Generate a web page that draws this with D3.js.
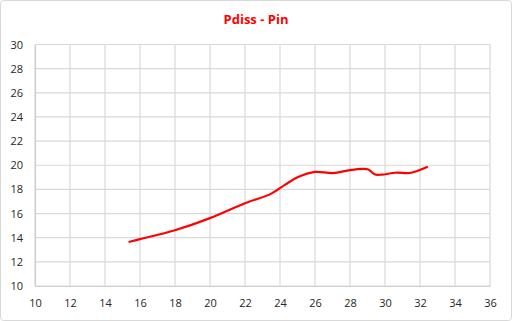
<!DOCTYPE html>
<html>
<head>
<meta charset="utf-8">
<script src="https://cdn.jsdelivr.net/npm/d3@7"></script>
<style>
  body { margin: 0; background: #fff; }
  svg { display: block; font-family: "Open Sans", "Noto Sans", sans-serif; }
</style>
</head>
<body>
<div id="chart"></div>
<script>
// Pdiss vs Pin
var pin   = [15.4, 16, 18, 20, 22, 23.5, 24.3, 25, 26, 27, 28, 28.7, 29.05, 29.4, 29.8, 30.6, 31.5, 32.4];
var pdiss = [13.66, 13.88, 14.62, 15.62, 16.85, 17.65, 18.4, 19.0, 19.45, 19.35, 19.6, 19.7, 19.65, 19.25, 19.22, 19.38, 19.38, 19.85];
var xTicks = [10, 12, 14, 16, 18, 20, 22, 24, 26, 28, 30, 32, 34, 36];
var yTicks = [10, 12, 14, 16, 18, 20, 22, 24, 26, 28, 30];

var width = 512, height = 321;
var margin = { top: 44.5, right: 22, bottom: 35, left: 35 };

var svg = d3.select('#chart').append('svg')
    .attr('width', width)
    .attr('height', height);

// outer chart frame
svg.append('rect')
    .attr('x', 0.5).attr('y', 0.5)
    .attr('width', width - 1).attr('height', height - 1)
    .attr('rx', 3)
    .attr('fill', '#fff')
    .attr('stroke', '#d9d9d9');

svg.append('text')
    .attr('x', 256).attr('y', 24)
    .attr('text-anchor', 'middle')
    .attr('fill', '#ff0000')
    .attr('font-weight', 'bold')
    .attr('font-size', 13)
    .text('Pdiss - Pin');

var x = d3.scaleLinear().domain([10, 36]).range([margin.left, width - margin.right]);
var y = d3.scaleLinear().domain([10, 30]).range([height - margin.bottom, margin.top]);

var grid = svg.append('g').attr('stroke', '#d9d9d9').attr('stroke-width', 1.2);
grid.selectAll('.vline').data(xTicks).enter().append('line')
    .attr('class', 'vline')
    .attr('x1', function(d){ return x(d); }).attr('x2', function(d){ return x(d); })
    .attr('y1', y(10)).attr('y2', y(30));
grid.selectAll('.hline').data(yTicks).enter().append('line')
    .attr('class', 'hline')
    .attr('x1', x(10)).attr('x2', x(36))
    .attr('y1', function(d){ return y(d); }).attr('y2', function(d){ return y(d); });

var xAxis = d3.axisBottom(x).tickValues(xTicks).tickSize(0).tickPadding(13);
var yAxis = d3.axisLeft(y).tickValues(yTicks).tickSize(0).tickPadding(12);

svg.append('g')
    .attr('transform', 'translate(0,' + y(10) + ')')
    .call(xAxis)
    .call(function(g){ g.select('.domain').attr('stroke', '#cfcfcf').attr('stroke-width', 1.2); });

svg.append('g')
    .attr('transform', 'translate(' + x(10) + ',0)')
    .call(yAxis)
    .call(function(g){ g.select('.domain').attr('stroke', '#cfcfcf').attr('stroke-width', 1.2); });

svg.selectAll('.tick text')
    .attr('fill', '#262626')
    .attr('font-size', 11)
    .attr('font-family', '"Open Sans", "Noto Sans", sans-serif');

var pts = pin.map(function(d, i){ return [d, pdiss[i]]; });
var line = d3.line()
    .x(function(d){ return x(d[0]); })
    .y(function(d){ return y(d[1]); })
    .curve(d3.curveCatmullRom.alpha(0.5));

svg.append('path')
    .datum(pts)
    .attr('fill', 'none')
    .attr('stroke', '#ff0000')
    .attr('stroke-width', 2.2)
    .attr('stroke-linecap', 'round')
    .attr('d', line);
</script>
</body>
</html>
